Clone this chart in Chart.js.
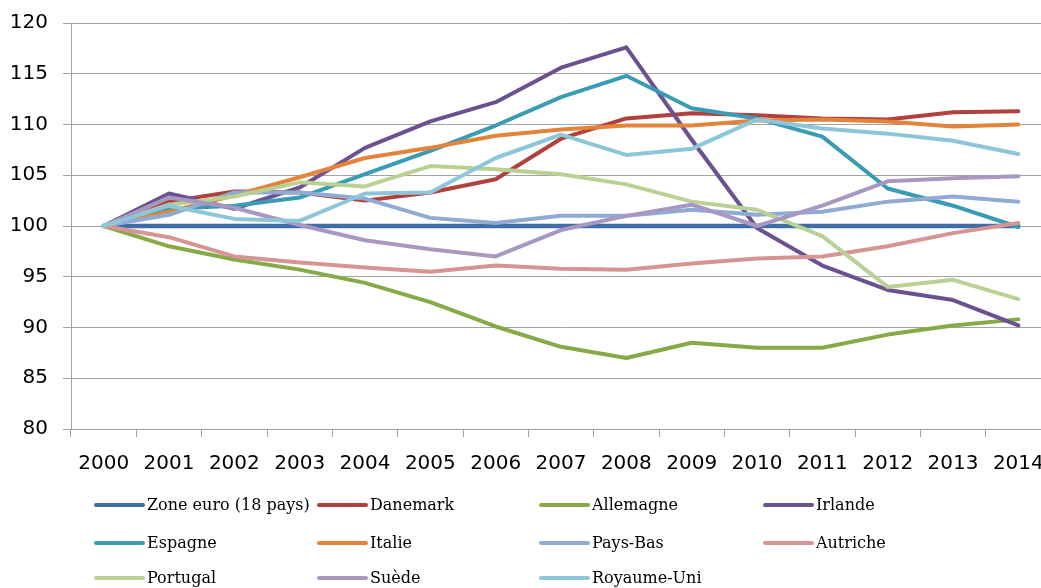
<!DOCTYPE html>
<html>
<head>
<meta charset="utf-8">
<script src="https://cdn.jsdelivr.net/npm/chart.js@4/dist/chart.umd.min.js"></script>
<style>
  html, body { margin: 0; padding: 0; background: #fff; overflow: hidden; }
  #wrap { width: 1060px; height: 588px; position: relative; }
</style>
</head>
<body>
<div id="wrap"><canvas id="indexChart" width="1060" height="588"></canvas></div>
<script>
// Indice 2000 = 100
const years = ['2000', '2001', '2002', '2003', '2004', '2005', '2006', '2007', '2008', '2009', '2010', '2011', '2012', '2013', '2014'];

const zoneEuro    = [100, 100, 100, 100, 100, 100, 100, 100, 100, 100, 100, 100, 100, 100, 100];
const danemark    = [100, 102.4, 103.4, 103.3, 102.5, 103.3, 104.6, 108.6, 110.6, 111.1, 110.9, 110.6, 110.5, 111.2, 111.3];
const allemagne   = [100, 98.0, 96.7, 95.7, 94.4, 92.5, 90.1, 88.1, 87.0, 88.5, 88.0, 88.0, 89.3, 90.2, 90.8];
const irlande     = [100, 103.2, 101.7, 103.8, 107.7, 110.3, 112.2, 115.6, 117.6, 108.5, 99.8, 96.1, 93.7, 92.7, 90.2];
const espagne     = [100, 101.7, 102.0, 102.8, 105.1, 107.4, 109.9, 112.7, 114.8, 111.6, 110.6, 108.8, 103.7, 102.0, 99.9];
const italie      = [100, 101.4, 103.0, 104.8, 106.7, 107.7, 108.9, 109.5, 109.9, 109.9, 110.4, 110.5, 110.3, 109.8, 110.0];
const paysBas     = [100, 101.1, 103.3, 103.3, 102.7, 100.8, 100.3, 101.0, 101.0, 101.6, 101.1, 101.4, 102.4, 102.9, 102.4];
const autriche    = [100, 98.9, 97.0, 96.4, 95.9, 95.5, 96.1, 95.8, 95.7, 96.3, 96.8, 97.0, 98.0, 99.3, 100.3];
const portugal    = [100, 102.1, 102.9, 104.3, 103.9, 105.9, 105.6, 105.1, 104.1, 102.4, 101.6, 99.0, 94.0, 94.7, 92.8];
const suede       = [100, 102.8, 101.8, 100.1, 98.6, 97.7, 97.0, 99.6, 101.0, 102.1, 100.0, 102.0, 104.4, 104.7, 104.9];
const royaumeUni  = [100, 102.0, 100.7, 100.5, 103.2, 103.3, 106.7, 109.0, 107.0, 107.6, 110.5, 109.6, 109.1, 108.4, 107.1];

const yTicks = [80, 85, 90, 95, 100, 105, 110, 115, 120];

const series = [
  { label: 'Zone euro (18 pays)', data: zoneEuro,   color: '#3f6da6', width: 4.5 },
  { label: 'Danemark',            data: danemark,   color: '#b2413e', width: 4 },
  { label: 'Allemagne',           data: allemagne,  color: '#86aa45', width: 4 },
  { label: 'Irlande',             data: irlande,    color: '#6c5191', width: 4 },
  { label: 'Espagne',             data: espagne,    color: '#3a9cb4', width: 4 },
  { label: 'Italie',              data: italie,     color: '#e4843a', width: 4 },
  { label: 'Pays-Bas',            data: paysBas,    color: '#90abd3', width: 4 },
  { label: 'Autriche',            data: autriche,   color: '#d69492', width: 4 },
  { label: 'Portugal',            data: portugal,   color: '#b9d293', width: 4 },
  { label: 'Suède',               data: suede,      color: '#a898c1', width: 4 },
  { label: 'Royaume-Uni',         data: royaumeUni, color: '#8ec6d9', width: 4 }
];

const GRID = '#a3a3a3';

// legend drawn as a 4-column grid under the plot
const gridLegend = {
  id: 'gridLegend',
  afterDraw(chart) {
    const ctx = chart.ctx;
    const colX = [96, 319, 541, 765];
    const rowY = [505, 543, 578];
    ctx.save();
    ctx.font = '16px "DejaVu Serif", "Liberation Serif", serif';
    ctx.textBaseline = 'middle';
    ctx.fillStyle = '#000';
    chart.data.datasets.forEach((ds, i) => {
      const x = colX[i % 4];
      const y = rowY[Math.floor(i / 4)];
      ctx.strokeStyle = ds.borderColor;
      ctx.lineWidth = 4;
      ctx.lineCap = 'round';
      ctx.beginPath();
      ctx.moveTo(x, y);
      ctx.lineTo(x + 47, y);
      ctx.stroke();
      ctx.fillText(ds.label, x + 51, y + 1);
    });
    ctx.restore();
  }
};

new Chart(document.getElementById('indexChart'), {
  type: 'line',
  data: {
    labels: years,
    datasets: series.map((s, i) => ({
      label: s.label,
      data: s.data,
      borderColor: s.color,
      backgroundColor: s.color,
      borderWidth: s.width,
      borderJoinStyle: 'round',
      borderCapStyle: 'round',
      pointRadius: 0,
      tension: 0,
      fill: false,
      order: series.length - i
    }))
  },
  options: {
    responsive: false,
    animation: false,
    layout: { padding: { top: 23, right: 9, bottom: 109, left: 0 } },
    plugins: {
      legend: { display: false },
      tooltip: { enabled: false }
    },
    scales: {
      x: {
        offset: true,
        grid: { drawOnChartArea: false, drawTicks: true, tickLength: 8, color: GRID, offset: true },
        border: { color: GRID },
        ticks: {
          color: '#000',
          font: { family: '"DejaVu Sans", sans-serif', size: 20 },
          padding: 15,
          maxRotation: 0,
          autoSkip: false
        },
        afterFit(scale) {
          scale.height = 50;
          scale.paddingLeft = 0;
          scale.paddingRight = 0;
        }
      },
      y: {
        min: 80,
        max: 120,
        afterBuildTicks(scale) { scale.ticks = yTicks.map(v => ({ value: v })); },
        grid: { color: GRID, tickLength: 8, lineWidth: 1 },
        border: { color: GRID },
        ticks: {
          color: '#000',
          font: { family: '"DejaVu Sans", sans-serif', size: 20 },
          padding: 15
        },
        afterFit(scale) {
          scale.width = 71;
          scale.paddingTop = 0;
          scale.paddingBottom = 0;
        }
      }
    }
  },
  plugins: [gridLegend]
});
</script>
</body>
</html>
